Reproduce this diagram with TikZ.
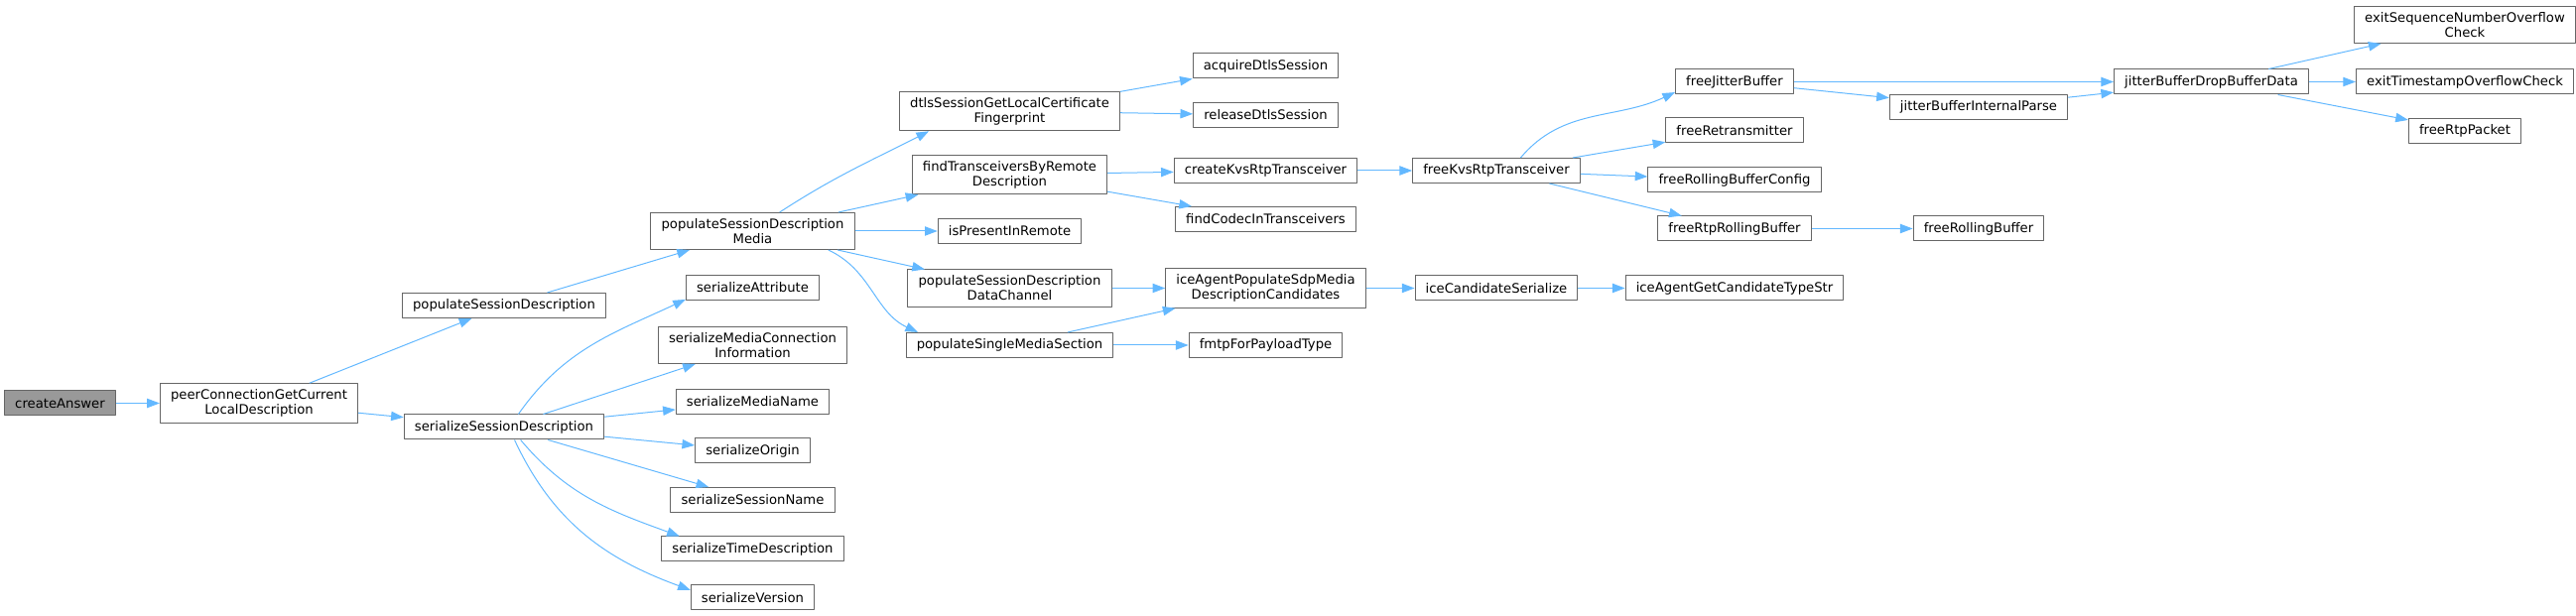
\documentclass[tikz,border=0pt]{standalone}
\usepackage{fontspec}
\setmainfont{DejaVu Sans}
\usetikzlibrary{arrows.meta}
\definecolor{callblue}{HTML}{63B8FF}
\definecolor{boxline}{HTML}{666666}
\definecolor{rootfill}{HTML}{999999}

\begin{document}
\begin{tikzpicture}[x=0.75pt, y=0.75pt, >={Triangle[length=9.5pt,width=7pt]}, font=\fontsize{9.9}{11.3}\selectfont, line join=round,
	fn/.style={draw=boxline, fill=white, line width=0.75pt, inner xsep=8pt, inner ysep=4.4pt, minimum height=18.75pt, align=center},
	root/.style={fn, fill=rootfill},
	call/.style={->, draw=callblue, line width=0.75pt}]
	\useasboundingbox (0,0) rectangle (2596,621);
	
	% caller chain
	\node[root] (ca) at (60.5,214.5) {createAnswer};
	\node[fn] (pc) at (261,214.5) {peerConnectionGetCurrent\\LocalDescription};
	\node[fn] (psd) at (508,313) {populateSessionDescription};
	\node[fn] (ssd) at (508,190.5) {serializeSessionDescription};
	
	\node[fn] (psdm) at (758.5,388) {populateSessionDescription\\Media};
	\node[fn] (sa) at (758.5,331) {serializeAttribute};
	\node[fn] (smci) at (758.5,273) {serializeMediaConnection\\Information};
	\node[fn] (smn) at (758.5,216) {serializeMediaName};
	\node[fn] (so) at (758.5,166.5) {serializeOrigin};
	\node[fn] (ssn) at (758.5,117) {serializeSessionName};
	\node[fn] (std) at (758.5,67.5) {serializeTimeDescription};
	\node[fn] (sv) at (758.5,18.5) {serializeVersion};
	
	\node[fn] (dtls) at (1017.5,509) {dtlsSessionGetLocalCertificate\\Fingerprint};
	\node[fn] (ftr) at (1017.5,445) {findTransceiversByRemote\\Description};
	\node[fn] (ipr) at (1017.5,388) {isPresentInRemote};
	\node[fn] (psdc) at (1017.5,330.5) {populateSessionDescription\\DataChannel};
	\node[fn] (psms) at (1017.5,273) {populateSingleMediaSection};
	
	\node[fn] (ads) at (1275.5,554.5) {acquireDtlsSession};
	\node[fn] (rds) at (1275.5,505) {releaseDtlsSession};
	\node[fn] (ckrt) at (1275.5,449) {createKvsRtpTransceiver};
	\node[fn] (fct) at (1275.5,400) {findCodecInTransceivers};
	\node[fn] (iap) at (1275.5,330.5) {iceAgentPopulateSdpMedia\\DescriptionCandidates};
	\node[fn] (fpt) at (1275.5,273) {fmtpForPayloadType};
	
	\node[fn] (fkrt) at (1508,449) {freeKvsRtpTransceiver};
	\node[fn] (ics) at (1508,330.5) {iceCandidateSerialize};
	
	\node[fn] (fjb) at (1748,538.5) {freeJitterBuffer};
	\node[fn] (fr) at (1748,489.5) {freeRetransmitter};
	\node[fn] (frbc) at (1748,439.5) {freeRollingBufferConfig};
	\node[fn] (frrb) at (1748,390.5) {freeRtpRollingBuffer};
	\node[fn] (iag) at (1748,330.5) {iceAgentGetCandidateTypeStr};
	
	\node[fn] (jbip) at (1994,513) {jitterBufferInternalParse};
	\node[fn] (frb) at (1994,390.5) {freeRollingBuffer};
	\node[fn] (jbd) at (2228.5,538.5) {jitterBufferDropBufferData};
	
	\node[fn] (esn) at (2484,596) {exitSequenceNumberOverflow\\Check};
	\node[fn] (eto) at (2484,538.5) {exitTimestampOverflowCheck};
	\node[fn] (frp) at (2484,489) {freeRtpPacket};
	
	% straight calls
	\foreach \a/\b in {ca/pc, pc/psd, pc/ssd, psd/psdm, ssd/smci, ssd/smn, ssd/so, ssd/ssn,
		psdm/ftr, psdm/ipr, psdm/psdc, dtls/ads, dtls/rds, ftr/ckrt, ftr/fct, psdc/iap, psms/iap, psms/fpt,
		ckrt/fkrt, iap/ics, fkrt/fr, fkrt/frbc, fkrt/frrb, frrb/frb, ics/iag,
		fjb/jbd, fjb/jbip, jbip/jbd, jbd/esn, jbd/eto, jbd/frp}
		{ \draw[call] (\a) -- (\b); }
	
	% bent calls
	\draw[call] (ssd.42) to[out=55,in=205] (sa.190);
	\draw[call] (ssd.-38) to[out=-50,in=160] (std.170);
	\draw[call] (ssd.-51) to[out=-65,in=160] (sv.173);
	\draw[call] (psdm.35) to[out=33,in=207] (dtls.194);
	\draw[call] (psdm.-14) to[out=-25,in=155] (psms.172);
	\draw[call] (fkrt.28) to[out=50,in=205] (fjb.190);
\end{tikzpicture}
\end{document}
